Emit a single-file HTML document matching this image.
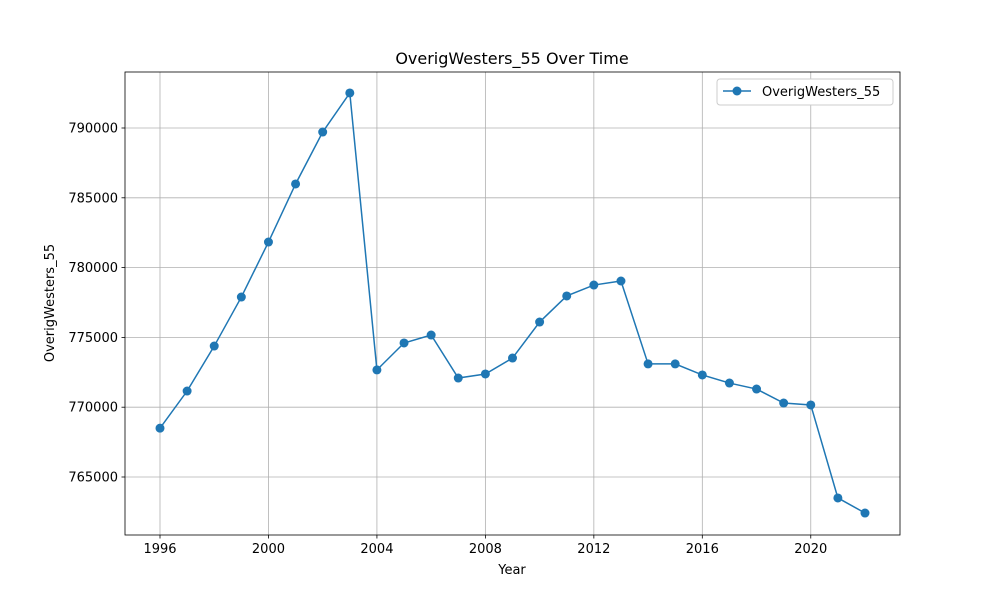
<!DOCTYPE html>
<html><head><meta charset="utf-8"><style>
body{margin:0;background:#fff;font-family:"Liberation Sans","DejaVu Sans",sans-serif}
svg text{font-family:"DejaVu Sans","Liberation Sans",sans-serif}
</style></head><body>
<svg id="chart" width="1000" height="600"></svg>
<script>
const years=[1996,1997,1998,1999,2000,2001,2002,2003,2004,2005,2006,2007,2008,2009,2010,2011,2012,2013,2014,2015,2016,2017,2018,2019,2020,2021,2022];
const values=[768500,771160,774380,777890,781830,785990,789710,792510,772670,774600,775170,772090,772380,773520,776100,777970,778750,779040,773100,773100,772310,771730,771300,770300,770160,763500,762420];
const xTicks=[1996,2000,2004,2008,2012,2016,2020];
const yTicks=[765000,770000,775000,780000,785000,790000];
const L=125,R=900,T=72,B=535;
const xs=v=>160+(v-1996)*(865-160)/26;
const ys=v=>128+(790000-v)*(477-128)/25000;
const svg=document.getElementById('chart');
const NS='http://www.w3.org/2000/svg';
function mk(tag,attrs,txt){const e=document.createElementNS(NS,tag);for(const k in attrs)e.setAttribute(k,attrs[k]);if(txt!==undefined)e.textContent=txt;svg.appendChild(e);return e;}
xTicks.forEach(t=>{const x=xs(t);
const g=mk('line',{x1:x,x2:x,y1:T,y2:B,stroke:'#b0b0b0','stroke-width':0.8});


mk('line',{x1:x,x2:x,y1:B,y2:B+3.5,stroke:'#000','stroke-width':0.8});
const l=mk('text',{x:x,y:B+18,'text-anchor':'middle','font-size':13},t);


});
yTicks.forEach(t=>{const y=ys(t);
const g=mk('line',{x1:L,x2:R,y1:y,y2:y,stroke:'#b0b0b0','stroke-width':0.8});


mk('line',{x1:L-3.5,x2:L,y1:y,y2:y,stroke:'#000','stroke-width':0.8});
const l=mk('text',{x:L-7,y:y+4.5,'text-anchor':'end','font-size':13},t);


});
const fr=mk('rect',{x:L,y:T,width:R-L,height:B-T,fill:'none',stroke:'#000','stroke-width':0.8});


const pts=years.map((y,i)=>xs(y)+','+ys(values[i])).join(' ');
const pl=mk('polyline',{points:pts,fill:'none',stroke:'#1f77b4','stroke-width':1.5});


years.forEach((y,i)=>{const c=mk('circle',{cx:xs(y),cy:ys(values[i]),r:4.5,fill:'#1f77b4'});


});
const ti=mk('text',{x:512,y:64,'text-anchor':'middle','font-size':16},'OverigWesters_55 Over Time');


const xt=mk('text',{x:512,y:574,'text-anchor':'middle','font-size':13},'Year');


const yt=mk('text',{x:54,y:303,'text-anchor':'middle','font-size':13,transform:'rotate(-90 54 303)'},'OverigWesters_55');


const lb=mk('rect',{x:717,y:79,width:176,height:26,rx:3,fill:'#fff',stroke:'#ccc','stroke-width':1});


mk('line',{x1:723,x2:751,y1:91,y2:91,stroke:'#1f77b4','stroke-width':1.5});
mk('circle',{cx:737,cy:91,r:4.5,fill:'#1f77b4'});
const lt=mk('text',{x:762,y:96,'font-size':13},'OverigWesters_55');


</script>
</body></html>
